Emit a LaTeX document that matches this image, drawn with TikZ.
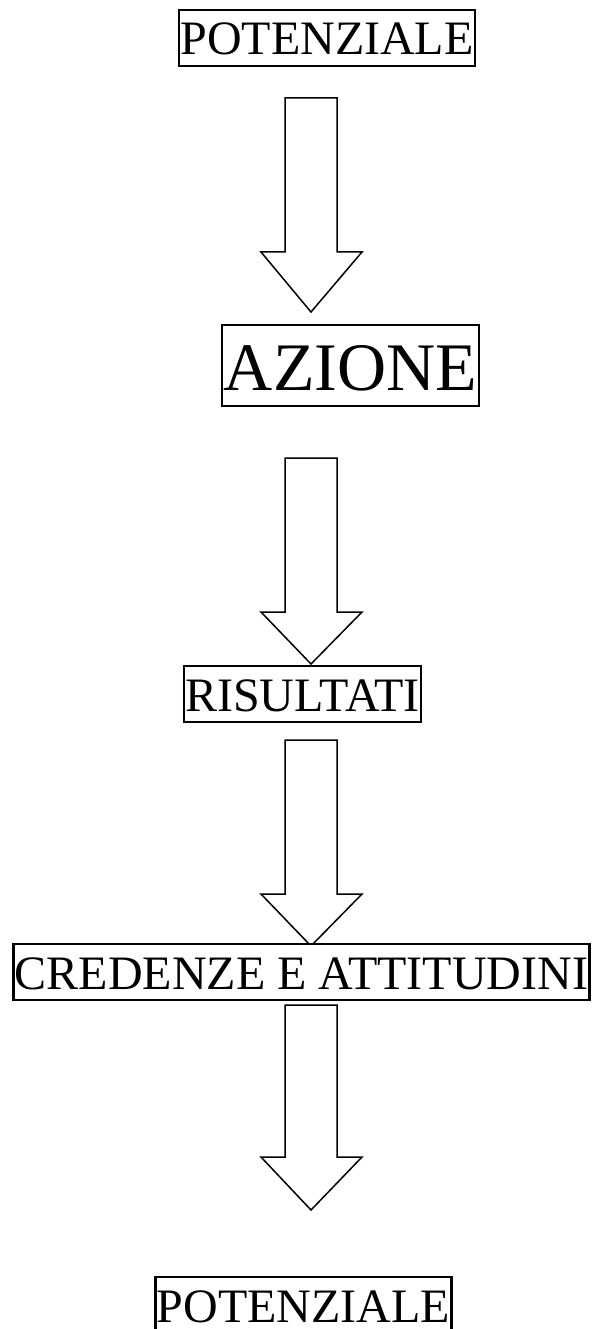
\documentclass[tikz,border=0pt]{standalone}
\usepackage{fontspec}
\setmainfont{Liberation Serif}
\begin{document}
\begin{tikzpicture}[x=1pt,y=-1pt,
  label box/.style={draw, line width=2.3pt, fill=white, inner xsep=1.5pt, inner ysep=0pt,
    anchor=base, font=\fontsize{48}{48}\selectfont, text height=45pt, text depth=11pt},
  big label/.style={font=\fontsize{68}{68}\selectfont, text height=65pt, text depth=16pt, inner xsep=2pt},
  block arrow/.style={draw, line width=1.5pt, line join=miter, fill=white}]
\useasboundingbox (0,0) rectangle (593,1329);

% hollow downward block arrows: shaft top / head base / tip
\foreach \top/\head/\tip in {98/252/312, 458/612/664, 740/894/946, 1005/1157/1210}{
  \draw[block arrow] (285,\top) -- (337,\top) -- (337,\head) -- (362,\head)
    -- (311,\tip) -- (261,\head) -- (285,\head) -- cycle;
}

% labelled boxes
\node[label box] (pot1) at (327,55) {POTENZIALE};
\node[label box, big label] (azione) at (350.5,390) {AZIONE};
\node[label box] (risultati) at (302.5,711) {RISULTATI};
\node[label box] (credenze) at (301.5,989) {CREDENZE E ATTITUDINI};
\node[label box] (pot2) at (303.5,1322) {POTENZIALE};
\end{tikzpicture}
\end{document}
